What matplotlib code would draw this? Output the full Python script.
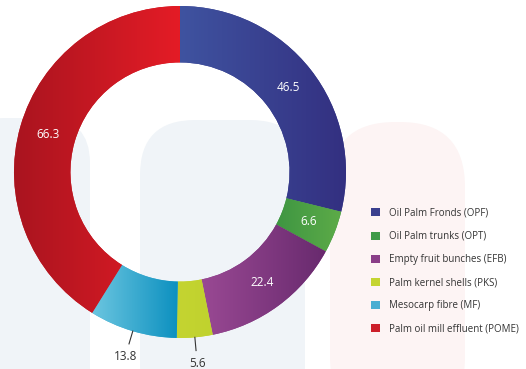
import matplotlib.pyplot as plt
import numpy as np
from matplotlib.patches import FancyBboxPatch
from matplotlib.colors import to_rgb

categories = ["Oil Palm Fronds (OPF)", "Oil Palm trunks (OPT)", "Empty fruit bunches (EFB)",
              "Palm kernel shells (PKS)", "Mesocarp fibre (MF)", "Palm oil mill effluent (POME)"]
values = [46.5, 6.6, 22.4, 5.6, 13.8, 66.3]
colors = ["#3a3f8e", "#3f9a48", "#8a3e88", "#c4d431", "#4aaed2", "#cc1f2a"]
# left / right shades for the horizontal gradient of each ring segment
grad_left = ["#3f53a0", "#11773a", "#a24e9a", "#c4d431", "#6cc6e0", "#a8141f"]
grad_right = ["#332f80", "#5dab48", "#682a6e", "#c0d22e", "#0a8fbf", "#e41c26"]
outside = [False, False, False, True, True, False]

plt.rcParams['font.family'] = ['Open Sans', 'DejaVu Sans']

fig = plt.figure(figsize=(5.26, 3.69), dpi=100)

# faint watermark in the background
bg = fig.add_axes([0, 0, 1, 1], zorder=0)
bg.set_xlim(0, 526)
bg.set_ylim(369, 0)
bg.axis("off")
bg.add_patch(FancyBboxPatch((-40, 118), 130, 300, boxstyle="round,pad=0,rounding_size=45",
                            fc="#f0f4f8", ec="none"))
bg.add_patch(FancyBboxPatch((140, 120), 165, 300, boxstyle="round,pad=0,rounding_size=55",
                            fc="#f0f4f8", ec="none"))
bg.add_patch(FancyBboxPatch((330, 122), 135, 300, boxstyle="round,pad=0,rounding_size=65",
                            fc="#fdf4f4", ec="none"))

cx, cy, R = 180, 172, 166
ax = fig.add_axes([(cx - R) / 526, (369 - cy - R) / 369, 2 * R / 526, 2 * R / 369], zorder=1)
ax.patch.set_alpha(0)

wedges, _ = ax.pie(values, colors=colors, startangle=90, counterclock=False, radius=1,
                   wedgeprops=dict(width=0.34, edgecolor="none"))
ax.set_xlim(-1, 1)
ax.set_ylim(-1, 1)
ax.set_aspect("equal")
ax.axis("off")

# horizontal colour gradient inside each segment
for w, cl, cr in zip(wedges, grad_left, grad_right):
    verts = w.get_path().vertices
    x0, x1 = verts[:, 0].min(), verts[:, 0].max()
    t = np.linspace(0, 1, 256)
    img = np.outer(np.ones(2), t)[..., None] * np.array(to_rgb(cr)) + \
        np.outer(np.ones(2), 1 - t)[..., None] * np.array(to_rgb(cl))
    im = ax.imshow(img, extent=(x0, x1, -1, 1), aspect="auto", zorder=2, interpolation="bilinear")
    im.set_clip_path(w)

total = sum(values)
cum = 0
for v, out in zip(values, outside):
    mid = 90 - (cum + v / 2) / total * 360
    cum += v
    a = np.deg2rad(mid)
    if out:
        ax.plot([np.cos(a) * 1.0, np.cos(a) * 1.08], [np.sin(a) * 1.0, np.sin(a) * 1.08],
                color="#333333", lw=0.8, clip_on=False)
        ax.text(np.cos(a) * 1.16, np.sin(a) * 1.16, f"{v}", ha="center", va="center",
                fontsize=8.5, color="#333333")
    else:
        ax.text(np.cos(a) * 0.83, np.sin(a) * 0.83, f"{v}", ha="center", va="center",
                fontsize=8.5, color="white", zorder=3)

ax.set_xlim(-1, 1)
ax.set_ylim(-1, 1)

handles = [plt.Rectangle((0, 0), 1, 1, fc=c, ec="none") for c in colors]
fig.legend(handles, categories, loc="upper left", bbox_to_anchor=(362 / 526, 1 - 199 / 369),
           frameon=False, fontsize=7, handlelength=0.9, handleheight=0.9,
           labelspacing=1.25, handletextpad=1.0, labelcolor="#333333")

fig.savefig("out.png", dpi=100)
